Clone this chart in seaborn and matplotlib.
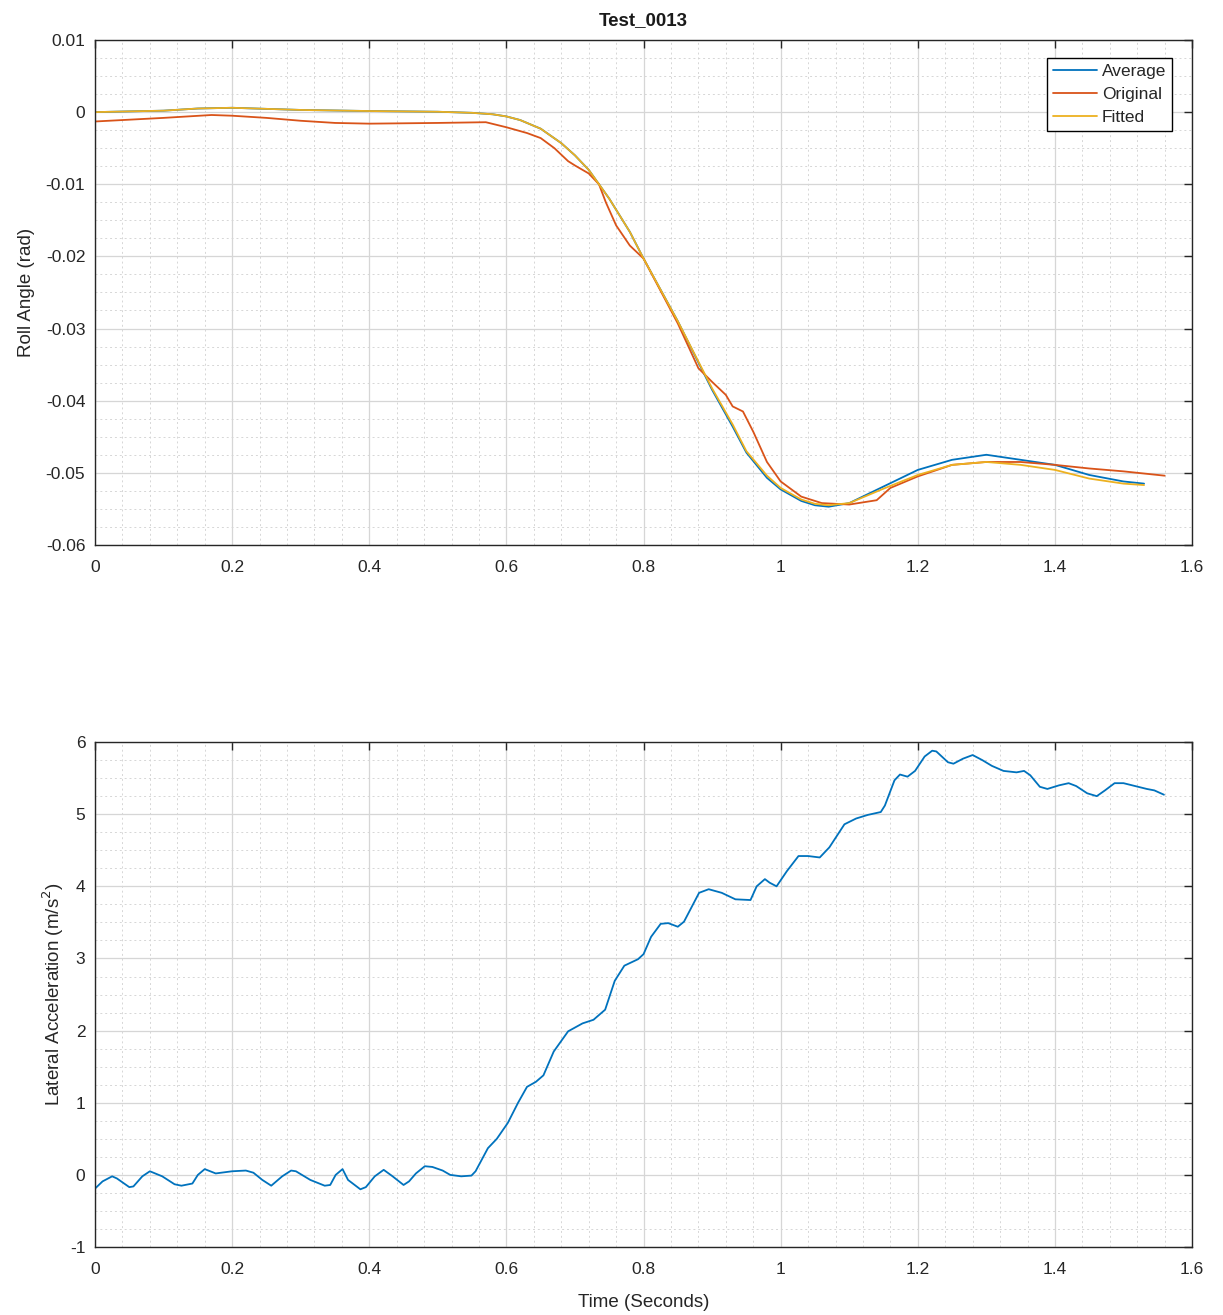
import numpy as np
import pandas as pd
import seaborn as sns
import matplotlib
matplotlib.use("Agg")
import matplotlib.pyplot as plt
from matplotlib.ticker import MultipleLocator, FuncFormatter

# roll angle series (rad)
t_fit = [0, 0.1, 0.15, 0.2, 0.3, 0.4, 0.5, 0.55, 0.58, 0.6, 0.62, 0.65, 0.68, 0.7, 0.72,
         0.75, 0.78, 0.8, 0.85, 0.9, 0.93, 0.95, 0.98, 1.0, 1.03, 1.05, 1.07, 1.1, 1.15,
         1.2, 1.25, 1.3, 1.35, 1.4, 1.45, 1.5, 1.53]
fitted = [0.0, 0.0002, 0.0005, 0.0006, 0.0003, 0.00015, 0.00005, -0.0001, -0.0003, -0.0006,
          -0.0011, -0.0023, -0.0043, -0.006, -0.008, -0.012, -0.0166, -0.0203, -0.029,
          -0.0383, -0.0433, -0.047, -0.0504, -0.0521, -0.0537, -0.0543, -0.0545, -0.0542,
          -0.0522, -0.0503, -0.0489, -0.0485, -0.0489, -0.0496, -0.0508, -0.0515, -0.0517]
avg = [0.0, 0.0002, 0.0005, 0.0006, 0.0003, 0.00015, 0.00005, -0.0001, -0.0003, -0.0006,
       -0.0011, -0.0023, -0.0043, -0.006, -0.008, -0.012, -0.0166, -0.0203, -0.029,
       -0.0385, -0.0436, -0.0472, -0.0507, -0.0523, -0.0539, -0.0545, -0.0547, -0.0542,
       -0.0519, -0.0496, -0.0482, -0.0475, -0.0482, -0.0489, -0.0503, -0.0512, -0.0515]
t_orig = [0, 0.1, 0.17, 0.2, 0.25, 0.3, 0.35, 0.4, 0.5, 0.57, 0.6, 0.63, 0.65, 0.67, 0.69,
          0.7, 0.72, 0.735, 0.745, 0.76, 0.78, 0.8, 0.85, 0.88, 0.9, 0.92, 0.93, 0.945, 0.96,
          0.98, 1.0, 1.03, 1.06, 1.1, 1.14, 1.16, 1.2, 1.25, 1.3, 1.35, 1.4, 1.45, 1.5, 1.56]
original = [-0.0013, -0.0008, -0.0004, -0.0005, -0.0008, -0.0012, -0.0015, -0.0016, -0.0015,
            -0.0014, -0.0021, -0.0029, -0.0036, -0.0050, -0.0068, -0.0074, -0.0085, -0.0100,
            -0.0125, -0.0157, -0.0185, -0.0203, -0.0293, -0.0355, -0.0374, -0.0392, -0.0408,
            -0.0415, -0.0443, -0.0485, -0.0512, -0.0533, -0.0542, -0.0544, -0.0538, -0.0521,
            -0.0505, -0.0489, -0.0485, -0.0485, -0.0489, -0.0494, -0.0498, -0.0504]

# lateral acceleration (m/s^2)
t_acc = [0, 0.011, 0.025, 0.032, 0.05, 0.056, 0.069, 0.08, 0.098, 0.116, 0.126, 0.142, 0.15,
         0.16, 0.176, 0.2, 0.22, 0.231, 0.244, 0.257, 0.273, 0.286, 0.293, 0.314, 0.335, 0.343,
         0.351, 0.361, 0.369, 0.387, 0.395, 0.408, 0.421, 0.434, 0.45, 0.458, 0.468, 0.481,
         0.492, 0.507, 0.518, 0.534, 0.549, 0.555, 0.573, 0.586, 0.602, 0.617, 0.63, 0.643,
         0.654, 0.669, 0.69, 0.711, 0.727, 0.744, 0.758, 0.772, 0.792, 0.8, 0.811, 0.825,
         0.836, 0.85, 0.859, 0.881, 0.895, 0.914, 0.934, 0.956, 0.965, 0.977, 0.984, 0.994,
         1.009, 1.026, 1.04, 1.057, 1.071, 1.093, 1.11, 1.127, 1.146, 1.152, 1.166, 1.174,
         1.185, 1.196, 1.21, 1.221, 1.227, 1.244, 1.252, 1.266, 1.28, 1.294, 1.308, 1.325,
         1.344, 1.355, 1.364, 1.378, 1.389, 1.406, 1.42, 1.431, 1.447, 1.461, 1.473, 1.487,
         1.5, 1.517, 1.534, 1.545, 1.559]
lat_acc = [-0.19, -0.09, -0.02, -0.05, -0.17, -0.16, -0.02, 0.05, -0.02, -0.13, -0.15, -0.12,
           0.0, 0.08, 0.02, 0.05, 0.06, 0.03, -0.07, -0.15, -0.02, 0.06, 0.05, -0.07, -0.15,
           -0.14, 0.0, 0.08, -0.07, -0.2, -0.17, -0.02, 0.07, -0.02, -0.14, -0.09, 0.02, 0.12,
           0.11, 0.06, 0.0, -0.02, -0.01, 0.05, 0.37, 0.5, 0.72, 1.0, 1.22, 1.29, 1.38, 1.71,
           1.99, 2.1, 2.15, 2.29, 2.69, 2.9, 2.99, 3.06, 3.3, 3.48, 3.49, 3.44, 3.51, 3.91,
           3.96, 3.91, 3.82, 3.81, 4.0, 4.1, 4.05, 4.0, 4.21, 4.42, 4.42, 4.4, 4.54, 4.86, 4.94,
           4.99, 5.03, 5.12, 5.47, 5.55, 5.52, 5.6, 5.8, 5.88, 5.87, 5.72, 5.7, 5.77, 5.82, 5.75,
           5.67, 5.6, 5.58, 5.6, 5.54, 5.38, 5.35, 5.4, 5.43, 5.39, 5.29, 5.25, 5.33, 5.43,
           5.43, 5.39, 5.35, 5.33, 5.27]

roll = pd.concat([
    pd.DataFrame({"t": t_fit, "y": avg, "Series": "Average"}),
    pd.DataFrame({"t": t_orig, "y": original, "Series": "Original"}),
    pd.DataFrame({"t": t_fit, "y": fitted, "Series": "Fitted"}),
])
acc = pd.DataFrame({"t": t_acc, "y": lat_acc})

sns.set_style("white")
plt.rcParams["font.family"] = ["Liberation Sans", "DejaVu Sans"]
plt.rcParams["axes.unicode_minus"] = False

colors = {"Average": "#0072BD", "Original": "#D95319", "Fitted": "#EDB120"}

fig = plt.figure(figsize=(12.23, 13.15), dpi=100)
ax1 = fig.add_axes([0.0777, 0.5856, 0.8970, 0.3840])
ax2 = fig.add_axes([0.0777, 0.0517, 0.8970, 0.3840])

sns.lineplot(roll, x="t", y="y", hue="Series", palette=colors, linewidth=1.3, ax=ax1)
sns.lineplot(acc, x="t", y="y", color="#0072BD", linewidth=1.3, ax=ax2)

fmt = FuncFormatter(lambda v, pos: f"{round(v, 6):g}")


def matlab_axes(ax, ymin, ymax, ymaj, ymin_step):
    ax.set_xlim(0, 1.6)
    ax.set_ylim(ymin, ymax)
    ax.xaxis.set_major_locator(MultipleLocator(0.2))
    ax.xaxis.set_minor_locator(MultipleLocator(0.04))
    ax.yaxis.set_major_locator(MultipleLocator(ymaj))
    ax.yaxis.set_minor_locator(MultipleLocator(ymin_step))
    ax.xaxis.set_major_formatter(fmt)
    ax.yaxis.set_major_formatter(fmt)
    ax.grid(which="major", color="#d6d6d6", linewidth=0.9, linestyle="-")
    ax.grid(which="minor", color="#d6d6d6", linewidth=0.7, linestyle=(0, (2, 3)))
    ax.set_axisbelow(True)
    ax.tick_params(which="major", direction="in", length=6, width=1, color="#262626",
                   top=True, right=True, labelsize=12.5, labelcolor="#262626")
    ax.tick_params(axis="x", which="major", pad=11)
    ax.tick_params(axis="y", which="major", pad=7)
    ax.tick_params(which="minor", length=0)
    for s in ax.spines.values():
        s.set_color("#262626")
        s.set_linewidth(1)


matlab_axes(ax1, -0.06, 0.01, 0.01, 0.0025)
matlab_axes(ax2, -1, 6, 1, 0.25)

ax1.set_title("Test_0013", fontsize=13.5, fontweight="bold", color="#1a1a1a", pad=11)
ax1.set_xlabel(None)
ax1.set_ylabel("Roll Angle (rad)", fontsize=13.5, color="#262626", labelpad=8)
ax2.set_xlabel("Time (Seconds)", fontsize=13.5, color="#262626", labelpad=12)
ax2.set_ylabel("Lateral Acceleration (m/s$^2$)", fontsize=13.5, color="#262626", labelpad=3)

leg = ax1.legend(loc="upper right", bbox_to_anchor=(0.982, 0.965), fontsize=12.5,
                 frameon=True, fancybox=False, edgecolor="black", framealpha=1,
                 handlelength=2.5, borderpad=0.35, labelspacing=0.45, handletextpad=0.3,
                 borderaxespad=0)
leg.get_frame().set_linewidth(1)

fig.savefig("out.png", dpi=100)
